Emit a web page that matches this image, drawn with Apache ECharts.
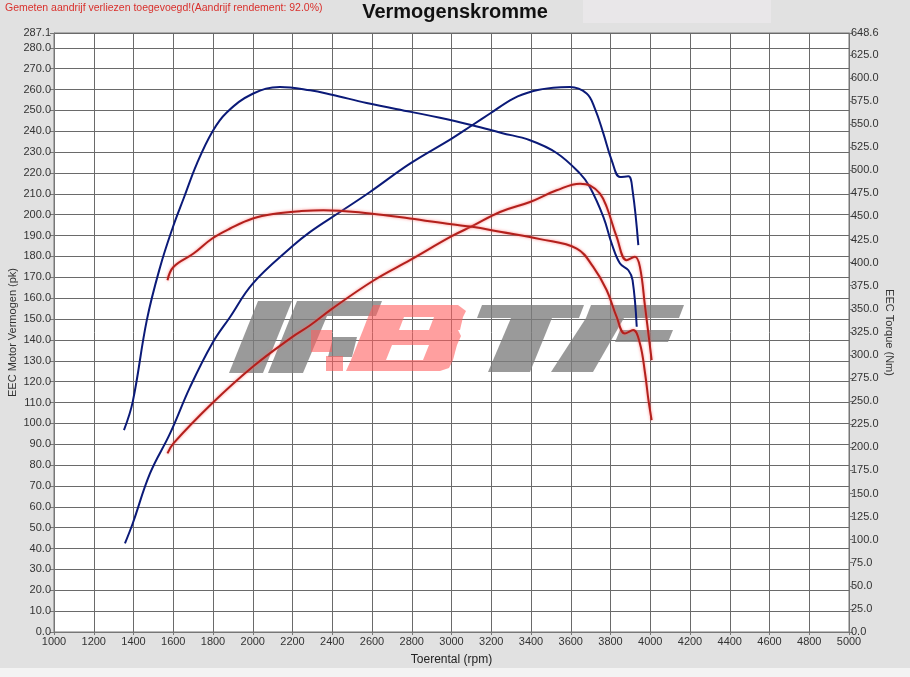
<!DOCTYPE html>
<html>
<head>
<meta charset="utf-8">
<script src="https://cdn.jsdelivr.net/npm/echarts@6/dist/echarts.min.js"></script>
<style>
html,body{margin:0;padding:0;background:#e1e1e1;}
#chart{width:910px;height:677px;}
</style>
</head>
<body>
<div id="chart"></div>
<script>
// ---- data ----
const titleText = 'Vermogenskromme';
const noteText = 'Gemeten aandrijf verliezen toegevoegd!(Aandrijf rendement: 92.0%)';
const xName = 'Toerental (rpm)';
const yLeftName = 'EEC Motor Vermogen (pk)';
const yRightName = 'EEC Torque (Nm)';

// Blue (tuned) power, pk
const bluePowerRpm = [1357,1396,1483,1584,1685,1796,1886,2000,2196,2289,2439,2590,2791,3001,3104,3194,3311,3412,3512,3596,3680,3721,3764,3806,3848,3890,3911,3940];
const bluePower    = [42.5,52,76,95.2,117.5,138.3,151,167,184.6,191.8,201.3,210.9,224.5,236.5,242.9,248.5,255.7,259.3,260.9,261.2,258.1,251,239,226.1,218.1,218.4,211.7,185.4];

// Blue (tuned) torque, Nm
const blueTorqueRpm = [1352,1396,1467,1534,1598,1655,1719,1796,1869,2000,2137,2289,2398,2573,2795,2942,3104,3252,3395,3529,3647,3696,3764,3806,3848,3890,3911,3932];
const blueTorque    = [218.7,249.2,337.7,395.3,438.3,471.0,507.2,541.5,562.5,582.8,590.1,586.5,581.7,572.9,563.2,556.9,548.7,540.4,532.5,518.7,496.3,481.9,449.6,420.6,399.0,391.7,380.9,330.5];

// Red (stock) power, pk
const redPowerRpm = [1571,1601,1796,2000,2196,2289,2400,2610,2791,3001,3104,3244,3395,3529,3647,3696,3747,3781,3831,3881,3923,3948,3974,4007];
const redPower    = [85.6,90.4,109.6,127.1,141.2,147,155,168.6,178.2,189.7,194.5,201.3,206.1,211.7,214.9,214.1,210.1,203.7,189.4,178.2,179.8,175,155.8,130.3];

// Red (stock) torque, Nm
const redTorqueRpm = [1571,1601,1702,1796,1886,2000,2120,2238,2355,2590,2791,3001,3104,3244,3446,3630,3713,3781,3831,3872,3914,3948,3974,3991,4007];
const redTorque    = [380.9,395.3,409.8,426.1,436.9,447.8,453.2,455.7,456.8,453.2,447.8,441.4,438.7,433.3,425.4,415.2,395.3,370.0,341.1,323.3,326.9,312.4,279.9,251.0,229.5];

const xMin = 1000, xMax = 5000, xStep = 200;
const yLeftMax = 287.1, yLeftStep = 10;
const yRightMax = 648.6, yRightStep = 25;

// ---- chart ----
const pairs = (xs, ys) => xs.map((x, i) => [x, ys[i]]);
const chart = echarts.init(document.getElementById('chart'), null, {renderer: 'canvas'});

const BLUE = '#0b1a78';
const RED = '#b3201c';
const gray = 'rgba(125,125,125,0.78)';
const pink = 'rgba(255,95,95,0.6)';

function lineSeries(name, data, yIdx, color, halo) {
  return {
    name: name, type: 'line', data: data, yAxisIndex: yIdx,
    showSymbol: false, smooth: 0.4, z: 5,
    lineStyle: Object.assign({color: color, width: 2},
      halo ? {shadowColor: 'rgba(255,100,100,0.8)', shadowBlur: 3} : {}),
    animation: false
  };
}
function poly(points, fill) {
  return {type: 'polygon', z: 3, silent: true, shape: {points: points}, style: {fill: fill}};
}

const font = 'Liberation Sans, Arial, sans-serif';
const narrow = 'Liberation Sans Narrow, Liberation Sans, Arial, sans-serif';

chart.setOption({
  backgroundColor: '#e1e1e1',
  animation: false,
  title: [{
    text: titleText, left: 'center', top: -3,
    textStyle: {fontFamily: font, fontSize: 20, fontWeight: 'bold', color: '#111'}
  }, {
    text: noteText, left: 0, top: -2,
    textStyle: {fontFamily: font, fontSize: 10.5, fontWeight: 'normal', color: '#d9302c'}
  }],
  graphic: [
    {type: 'rect', shape: {x: 583, y: 0, width: 188, height: 23}, style: {fill: '#e9e7e9'}, z: -10, silent: true},
    {type: 'rect', shape: {x: 0, y: 668, width: 910, height: 9}, style: {fill: '#f3f3f3'}, z: -10, silent: true},
    // watermark logo
    poly([[258,301],[292,301],[263,373],[229,373]], gray),
    poly([[297,301],[382,301],[376,316],[327,316],[303,373],[268,373]], gray),
    poly([[333,337],[357,337],[352,357],[328,357]], gray),
    poly([[373,305],[458,305],[466,311],[463,317],[368,317]], pink),
    poly([[368,317],[404,317],[399,330],[363,330]], pink),
    poly([[434,317],[463,317],[460,330],[429,330]], pink),
    poly([[363,330],[458,330],[461,336],[457,345],[357,345]], pink),
    poly([[357,345],[392,345],[386,360],[351,360]], pink),
    poly([[429,345],[457,345],[453,360],[423,360]], pink),
    poly([[351,360],[453,360],[449,368],[440,371],[346,371]], pink),
    poly([[311,330],[332,330],[332,352],[311,352]], pink),
    poly([[326,356],[343,356],[343,371],[326,371]], pink),
    poly([[482,305],[584,305],[579,318],[477,318]], gray),
    poly([[511,318],[552,318],[530,372],[488,372]], gray),
    poly([[591,305],[684,305],[679,318],[586,318]], gray),
    poly([[620,330],[673,330],[668,342],[615,342]], gray),
    poly([[586,318],[624,318],[593,372],[551,372]], gray)
  ],
  grid: {
    left: 54, right: 61, top: 33, bottom: 45,
    outerBoundsMode: 'none', containLabel: false,
    show: true, backgroundColor: '#ffffff', borderColor: '#777', borderWidth: 1
  },
  xAxis: {
    type: 'value', min: xMin, max: xMax, interval: xStep,
    name: xName, nameLocation: 'middle', nameGap: 22, nameMoveOverlap: false,
    nameTextStyle: {fontFamily: narrow, fontSize: 12, color: '#222'},
    axisLine: {show: true, lineStyle: {color: '#777'}},
    axisTick: {show: true, length: 3, lineStyle: {color: '#777'}},
    axisLabel: {fontFamily: narrow, fontSize: 11, color: '#333', margin: 4,
      formatter: v => String(v)},
    splitLine: {show: true, lineStyle: {color: '#6a6a6a', width: 1}}
  },
  yAxis: [{
    type: 'value', min: 0, max: yLeftMax, interval: yLeftStep, position: 'left',
    name: yLeftName, nameLocation: 'middle', nameGap: 36, nameMoveOverlap: false,
    nameTextStyle: {fontFamily: font, fontSize: 11, color: '#333'},
    axisLine: {show: true, lineStyle: {color: '#777'}},
    axisTick: {show: true, length: 4, lineStyle: {color: '#777'}},
    axisLabel: {fontFamily: font, fontSize: 11, color: '#333', margin: 3,
      formatter: v => v.toFixed(1)},
    splitLine: {show: true, lineStyle: {color: '#6a6a6a', width: 1}}
  }, {
    type: 'value', min: 0, max: yRightMax, interval: yRightStep, position: 'right',
    name: yRightName, nameLocation: 'middle', nameGap: 35, nameRotate: -90, nameMoveOverlap: false,
    nameTextStyle: {fontFamily: font, fontSize: 11, color: '#333'},
    axisLine: {show: true, lineStyle: {color: '#777'}},
    axisTick: {show: true, length: 4, lineStyle: {color: '#777'}},
    axisLabel: {fontFamily: font, fontSize: 11, color: '#333', margin: 2,
      formatter: v => v.toFixed(1)},
    splitLine: {show: false}
  }],
  series: [
    lineSeries('Vermogen (getuned)', pairs(bluePowerRpm, bluePower), 0, BLUE, false),
    lineSeries('Torque (getuned)', pairs(blueTorqueRpm, blueTorque), 1, BLUE, false),
    lineSeries('Vermogen (standaard)', pairs(redPowerRpm, redPower), 0, RED, true),
    lineSeries('Torque (standaard)', pairs(redTorqueRpm, redTorque), 1, RED, true)
  ]
});
</script>
</body>
</html>
